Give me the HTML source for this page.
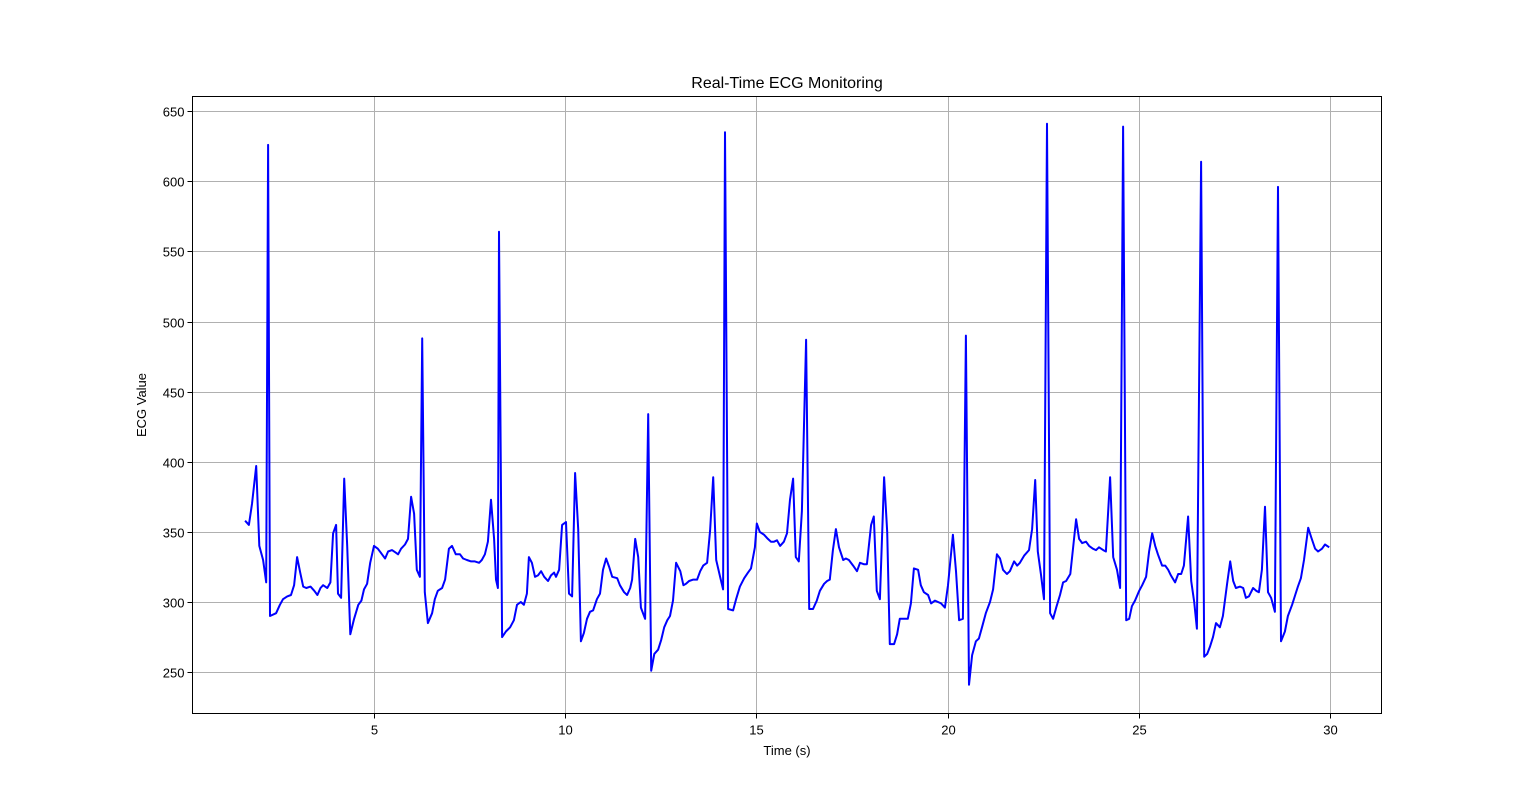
<!DOCTYPE html>
<html><head><meta charset="utf-8"><style>
html,body{margin:0;padding:0;background:#fff;}
svg{display:block;font-family:"Liberation Sans","DejaVu Sans",sans-serif;}
</style></head><body>
<svg id="chart" width="1536" height="802" viewBox="0 0 1536 802">
<rect x="0" y="0" width="1536" height="802" fill="#fff"/>
<text x="787" y="88" font-size="16" text-anchor="middle">Real-Time ECG Monitoring</text>
<text x="787" y="755" font-size="13" text-anchor="middle">Time (s)</text>
<text x="146" y="405" font-size="13" text-anchor="middle" transform="rotate(-90 146 405)">ECG Value</text>
<g id="grid"></g>
<g id="ticks"></g>
<g id="series"></g>
<rect x="192.5" y="96.5" width="1189" height="617" fill="none" stroke="#000" stroke-width="1"/>
</svg>
<script>
const times = [1.63,1.73,1.81,1.92,2.00,2.10,2.18,2.23,2.28,2.44,2.54,2.62,2.73,2.83,2.91,2.99,3.07,3.15,3.23,3.34,3.44,3.52,3.60,3.67,3.78,3.86,3.93,4.01,4.06,4.14,4.22,4.30,4.38,4.48,4.59,4.67,4.74,4.82,4.90,5.00,5.10,5.21,5.29,5.37,5.47,5.58,5.63,5.71,5.81,5.89,5.97,6.05,6.12,6.20,6.26,6.33,6.41,6.52,6.59,6.67,6.78,6.86,6.96,7.04,7.14,7.25,7.33,7.43,7.54,7.64,7.75,7.82,7.90,7.98,8.06,8.14,8.19,8.24,8.27,8.35,8.45,8.56,8.66,8.74,8.84,8.92,9.00,9.05,9.13,9.21,9.29,9.37,9.45,9.55,9.63,9.71,9.76,9.84,9.92,10.02,10.10,10.18,10.26,10.34,10.41,10.49,10.57,10.65,10.73,10.83,10.91,10.99,11.07,11.15,11.23,11.36,11.43,11.54,11.62,11.70,11.75,11.83,11.91,11.98,12.09,12.17,12.25,12.33,12.43,12.51,12.59,12.67,12.74,12.82,12.90,13.01,13.09,13.16,13.24,13.35,13.45,13.53,13.61,13.71,13.79,13.87,13.95,14.05,14.13,14.18,14.26,14.39,14.47,14.57,14.68,14.78,14.86,14.96,15.01,15.09,15.20,15.30,15.38,15.46,15.54,15.62,15.72,15.80,15.88,15.96,16.03,16.11,16.19,16.30,16.38,16.48,16.58,16.66,16.77,16.85,16.92,17.00,17.08,17.16,17.27,17.34,17.42,17.53,17.63,17.71,17.81,17.89,18.00,18.07,18.15,18.23,18.34,18.42,18.49,18.60,18.68,18.75,18.86,18.96,19.04,19.12,19.23,19.30,19.38,19.49,19.57,19.67,19.75,19.83,19.93,20.01,20.14,20.22,20.30,20.40,20.48,20.56,20.64,20.74,20.82,20.90,21.00,21.11,21.19,21.29,21.37,21.45,21.55,21.63,21.74,21.82,21.89,22.00,22.13,22.21,22.29,22.36,22.44,22.52,22.60,22.68,22.76,22.84,22.94,23.02,23.10,23.21,23.28,23.36,23.44,23.52,23.62,23.70,23.80,23.88,23.96,24.07,24.14,24.25,24.33,24.43,24.51,24.59,24.67,24.75,24.82,24.90,25.01,25.09,25.19,25.27,25.35,25.43,25.50,25.61,25.69,25.77,25.84,25.95,26.03,26.11,26.18,26.29,26.37,26.45,26.52,26.63,26.71,26.79,26.86,26.94,27.02,27.12,27.20,27.31,27.39,27.47,27.54,27.65,27.73,27.80,27.88,27.99,28.07,28.14,28.22,28.30,28.38,28.46,28.56,28.64,28.72,28.82,28.90,29.01,29.09,29.16,29.24,29.32,29.43,29.51,29.61,29.69,29.79,29.87,29.98];
const ecgValues = [358,355,370,397,340,330,314,626,290,292,298,302,304,305,312,332,321,311,310,311,308,305,310,312,310,314,349,355,306,303,388,340,277,288,298,301,309,313,328,340,338,334,331,336,337,335,334,338,341,345,375,363,323,318,488,307,285,292,302,308,310,316,338,340,334,334,331,330,329,329,328,330,334,343,373,345,316,310,564,275,279,282,287,298,300,298,306,332,328,318,319,322,318,315,319,321,318,323,355,357,306,304,392,352,272,278,288,293,294,302,306,323,331,325,318,317,312,307,305,310,316,345,332,296,288,434,251,263,266,273,282,287,290,301,328,322,312,313,315,316,316,322,326,328,351,389,330,318,309,635,295,294,302,311,317,321,324,339,356,350,348,345,343,343,344,340,343,349,373,388,332,329,365,487,295,295,301,308,313,315,316,337,352,339,330,331,330,326,322,328,327,327,355,361,308,302,389,350,270,270,277,288,288,288,299,324,323,312,307,305,299,301,300,299,296,312,348,322,287,288,490,241,262,272,274,282,292,300,309,334,331,323,320,322,329,326,328,333,337,352,387,336,320,302,641,292,288,296,305,314,315,320,338,359,345,342,343,340,338,337,339,337,336,389,332,323,310,639,287,288,297,301,308,312,318,336,349,340,334,326,326,323,319,314,320,320,326,361,315,300,281,614,261,263,268,275,285,282,290,313,329,315,310,311,310,303,304,310,308,307,323,368,307,303,293,596,272,279,290,298,305,311,317,330,353,346,338,336,338,341,339];
const xTicks = [5,10,15,20,25,30];
const yTicks = [250,300,350,400,450,500,550,600,650];

const NS = 'http://www.w3.org/2000/svg';
const PL = 192.5, PR = 1381.5, PT = 96.5, PB = 713.5;
const X0 = 0.254, X1 = 31.347, Y0 = 220.5, Y1 = 660.5;
function xs(t){ return PL + (t - X0) / (X1 - X0) * (PR - PL); }
function ys(v){ return PB - (v - Y0) / (Y1 - Y0) * (PB - PT); }
function mk(tag, attrs){ const e = document.createElementNS(NS, tag); for (const k in attrs) e.setAttribute(k, attrs[k]); return e; }

const grid = document.getElementById('grid');
const ticks = document.getElementById('ticks');
xTicks.forEach(t => {
  const x = Math.round(xs(t)) + 0.5;
  const g = mk('line', {x1:x, x2:x, y1:PT, y2:PB, stroke:'#b0b0b0', 'stroke-width':1});
  
  
  grid.appendChild(g);
  const tk = mk('line', {x1:x, x2:x, y1:PB, y2:PB+5, stroke:'#000', 'stroke-width':1});
  
  
  ticks.appendChild(tk);
  const lb = mk('text', {x:x, y:PB+21, 'font-size':13, 'text-anchor':'middle'});
  lb.textContent = t;
  
  
  ticks.appendChild(lb);
});
yTicks.forEach(v => {
  const y = Math.round(ys(v)) + 0.5;
  const g = mk('line', {x1:PL, x2:PR, y1:y, y2:y, stroke:'#b0b0b0', 'stroke-width':1});
  
  
  grid.appendChild(g);
  const tk = mk('line', {x1:PL-5, x2:PL, y1:y, y2:y, stroke:'#000', 'stroke-width':1});
  
  
  ticks.appendChild(tk);
  const lb = mk('text', {x:PL-8, y:y+5, 'font-size':13, 'text-anchor':'end'});
  lb.textContent = v;
  
  
  ticks.appendChild(lb);
});
const pts = times.map((t,i) => xs(t).toFixed(1) + ',' + ys(ecgValues[i]).toFixed(1)).join(' ');
const line = mk('polyline', {points:pts, fill:'none', stroke:'#0000ff', 'stroke-width':2, 'stroke-linejoin':'round'});


document.getElementById('series').appendChild(line);
</script>
</body></html>
